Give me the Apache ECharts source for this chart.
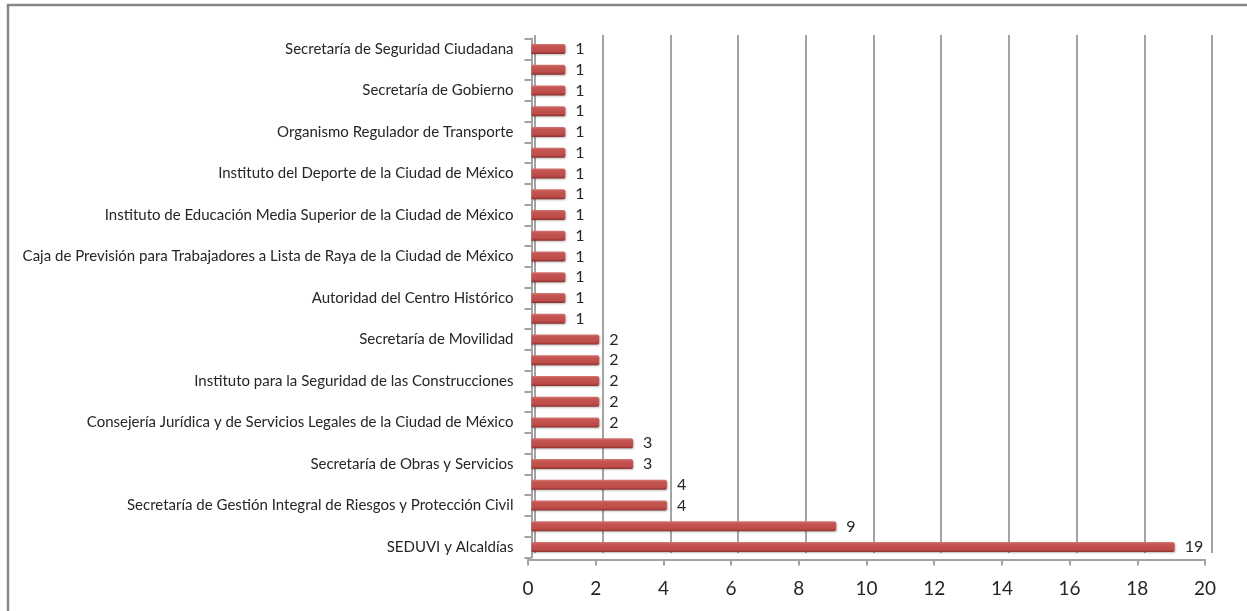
<!DOCTYPE html>
<html>
<head>
<meta charset="utf-8">
<script src="https://cdn.jsdelivr.net/npm/echarts@6/dist/echarts.min.js"></script>
<style>
html,body{margin:0;padding:0;background:#fff;}
#c{width:1247px;height:611px;}
</style>
</head>
<body>
<div id="c"></div>
<script>
// categories from bottom to top (empty = label not shown in the original)
const categories = [
  "SEDUVI y Alcaldías", "",
  "Secretaría de Gestión Integral de Riesgos y Protección Civil", "",
  "Secretaría de Obras y Servicios", "",
  "Consejería Jurídica y de Servicios Legales de la Ciudad de México", "",
  "Instituto para la Seguridad de las Construcciones", "",
  "Secretaría de Movilidad", "",
  "Autoridad del Centro Histórico", "",
  "Caja de Previsión para Trabajadores a Lista de Raya de la Ciudad de México", "",
  "Instituto de Educación Media Superior de la Ciudad de México", "",
  "Instituto del Deporte de la Ciudad de México", "",
  "Organismo Regulador de Transporte", "",
  "Secretaría de Gobierno", "",
  "Secretaría de Seguridad Ciudadana"
];
const values = [19, 9, 4, 4, 3, 3, 2, 2, 2, 2, 2, 1, 1, 1, 1, 1, 1, 1, 1, 1, 1, 1, 1, 1, 1];
const xTicks = [0, 2, 4, 6, 8, 10, 12, 14, 16, 18, 20];

const FONT = 'Lato';
const chart = echarts.init(document.getElementById('c'), null, {renderer: 'canvas'});
const xMin = xTicks[0], xMax = xTicks[xTicks.length - 1], xStep = xTicks[1] - xTicks[0];

chart.setOption({
  animation: false,
  backgroundColor: '#ffffff',
  graphic: [{
    type: 'rect', silent: true, z: 100,
    shape: {x: 8, y: 5, width: 1400, height: 800},
    style: {fill: 'none', stroke: '#868686', lineWidth: 2.5}
  }],
  grid: [
    {left: 535, width: 677, top: 35, height: 518},      // back wall (gridlines)
    {left: 531.5, width: 677, top: 38.5, height: 519},  // bars
    {left: 528, width: 677, top: 38.5, height: 521}     // front floor edge (ticks, labels)
  ],
  xAxis: [
    {gridIndex: 0, type: 'value', min: xMin, max: xMax, interval: xStep,
     axisLine: {show: false}, axisTick: {show: false}, axisLabel: {show: false},
     splitLine: {show: true, lineStyle: {color: '#a3a3a3', width: 2}}},
    {gridIndex: 1, type: 'value', min: xMin, max: xMax, interval: xStep,
     axisLine: {show: false}, axisTick: {show: false}, axisLabel: {show: false},
     splitLine: {show: false}},
    {gridIndex: 2, type: 'value', min: xMin, max: xMax, interval: xStep,
     axisLine: {show: true, lineStyle: {color: '#a3a3a3', width: 2}},
     axisTick: {show: true, length: 6, lineStyle: {color: '#a3a3a3', width: 2}},
     axisLabel: {show: true, margin: 20, color: '#262626', fontFamily: FONT, fontSize: 19,
                 formatter: v => xTicks.includes(v) ? String(v) : ''},
     splitLine: {show: false}}
  ],
  yAxis: [
    {gridIndex: 0, type: 'category', data: categories, show: false},
    {gridIndex: 1, type: 'category', data: categories,
     axisLine: {show: true, lineStyle: {color: '#a3a3a3', width: 2}},
     axisTick: {show: true, length: 7, lineStyle: {color: '#a3a3a3', width: 2}},
     axisLabel: {interval: 0, margin: 18, color: '#262626', fontFamily: FONT, fontSize: 15}},
    {gridIndex: 2, type: 'category', data: categories, show: false}
  ],
  series: [{
    type: 'bar', xAxisIndex: 1, yAxisIndex: 1,
    data: values, barWidth: 10,
    itemStyle: {
      borderRadius: [0, 2, 2, 0],
      color: new echarts.graphic.LinearGradient(0, 0, 0, 1, [
        {offset: 0, color: '#d67a76'},
        {offset: 0.2, color: '#c55652'},
        {offset: 0.75, color: '#bd4c49'},
        {offset: 1, color: '#8a302d'}
      ]),
      shadowColor: 'rgba(0,0,0,0.25)', shadowBlur: 2, shadowOffsetX: 1, shadowOffsetY: 1
    },
    label: {show: true, position: 'right', distance: 10, color: '#262626',
            fontFamily: FONT, fontSize: 16}
  }]
});
</script>
</body>
</html>
